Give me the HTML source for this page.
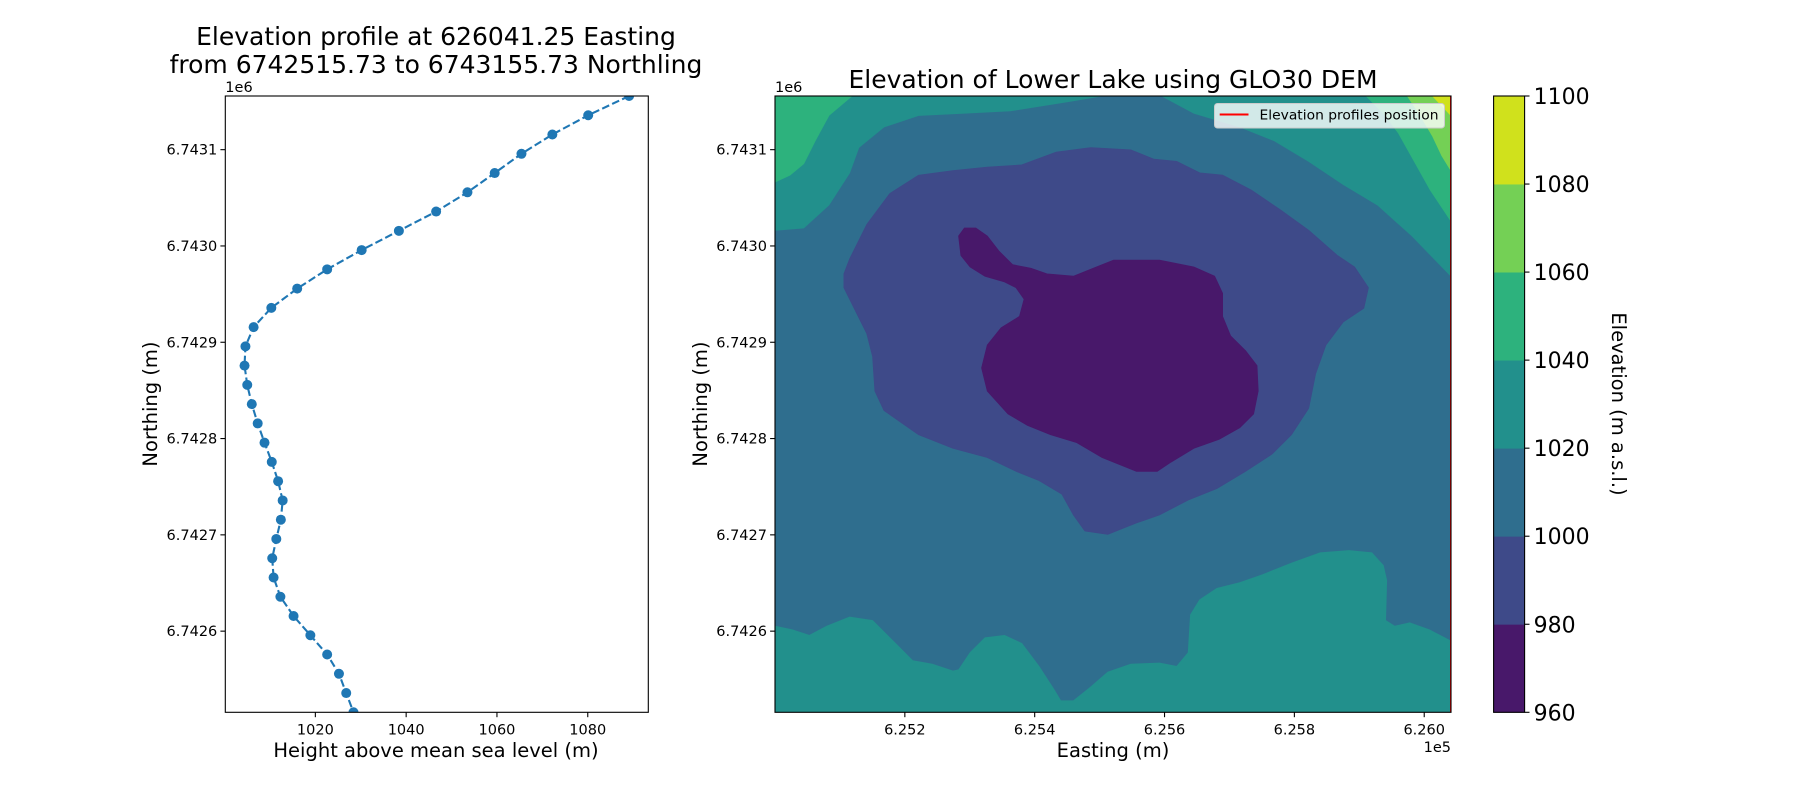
<!DOCTYPE html>
<html><head><meta charset="utf-8">
<style>
html,body{margin:0;padding:0;background:#fff;}
svg{display:block;font-family:"DejaVu Sans","Liberation Sans",sans-serif;}
</style></head>
<body>
<svg id="fig" width="1800" height="800" viewBox="0 0 1800 800" xmlns="http://www.w3.org/2000/svg">
<rect x="0" y="0" width="1800" height="800" fill="#fff"/>
<g id="left"></g>
<g id="right"></g>
<g id="cbar"></g>
</svg>
<script>
// ---------- Profile chart data ----------
const northingStart = 6743155.73;
const northingStep = -20;
const profileHeights = [1089.1,1080.1,1072.2,1065.4,1059.5,1053.5,1046.6,1038.4,1030.2,1022.6,1016.0,1010.3,1006.4,1004.6,1004.4,1005.0,1006.0,1007.3,1008.8,1010.4,1011.8,1012.8,1012.4,1011.4,1010.5,1010.8,1012.3,1015.2,1018.9,1022.6,1025.2,1026.8,1028.4];
const profileXTicks = [1020,1040,1060,1080];
const northingTicks = [6742600,6742700,6742800,6742900,6743000,6743100];
const northingTickLabels = ["6.7426","6.7427","6.7428","6.7429","6.7430","6.7431"];
// ---------- Map data ----------
const eastingTicks = [625200,625400,625600,625800,626000];
const eastingTickLabels = ["6.252","6.254","6.256","6.258","6.260"];
const profileEasting = 626041.25;
const levels = [960,980,1000,1020,1040,1060,1080,1100];
const levelColors = ["#48186a","#3e4a89","#2f6e8e","#22908c","#2db27d","#74d055","#d0e11c"];
// contour outlines (trace units, converted to easting/northing below)
const contourBands = [
 {level:2, trace:[[675,83],[1264,83],[1264,620],[675,620]]},
 {level:3, trace:[[675,83],[960,83],[930,88],[880,96],[840,98],[800,100],[770,110],[748,128],[740,150],[722,178],[700,198],[675,200]]},
 {level:3, trace:[[1012,83],[1040,98],[1080,110],[1110,122],[1140,140],[1170,160],[1200,178],[1230,205],[1264,240],[1264,83]]},
 {level:3, trace:[[675,545],[690,548],[705,553],[720,545],[740,537],[760,540],[780,560],[795,575],[812,578],[830,584],[835,583],[845,568],[858,555],[875,553],[890,560],[905,580],[918,600],[924,610],[935,610],[950,598],[965,585],[985,578],[1010,577],[1025,580],[1035,568],[1037,535],[1045,522],[1060,512],[1080,507],[1100,500],[1125,490],[1150,481],[1175,479],[1195,481],[1205,492],[1208,505],[1207,540],[1215,545],[1228,542],[1245,548],[1264,558],[1264,620],[675,620]]},
 {level:4, trace:[[675,83],[742,83],[722,100],[710,122],[700,142],[688,152],[675,158]]},
 {level:4, trace:[[1190,83],[1205,98],[1218,115],[1232,140],[1246,165],[1264,192],[1264,83]]},
 {level:5, trace:[[1226,83],[1236,98],[1248,118],[1256,135],[1264,148],[1264,83]]},
 {level:6, trace:[[1248,83],[1264,83],[1264,100]]},
 {level:1, trace:[[735,238],[740,225],[755,195],[775,168],[800,152],[830,148],[860,145],[890,143],[920,132],[950,128],[985,130],[1005,138],[1025,140],[1045,150],[1065,152],[1090,165],[1115,182],[1140,200],[1165,222],[1180,232],[1192,250],[1188,268],[1170,280],[1155,300],[1146,325],[1140,355],[1125,378],[1108,395],[1085,410],[1060,425],[1035,435],[1010,448],[990,455],[965,465],[945,462],[935,448],[925,430],[905,418],[885,410],[860,398],[830,390],[800,378],[770,357],[762,340],[760,310],[755,290],[745,270],[735,250]]},
 {level:0, trace:[[835,205],[840,198],[850,198],[860,205],[870,218],[882,230],[898,233],[912,238],[935,240],[955,232],[970,226],[990,226],[1010,226],[1040,232],[1058,240],[1065,255],[1065,275],[1072,292],[1085,305],[1095,318],[1096,340],[1092,360],[1080,372],[1062,382],[1040,390],[1020,402],[1008,410],[990,410],[960,398],[938,385],[915,378],[895,370],[878,360],[860,340],[855,320],[860,300],[872,285],[888,275],[892,260],[885,250],[875,245],[858,240],[845,232],[837,222]]}
];

const NS="http://www.w3.org/2000/svg";
function mk(parent,tag,attrs,text){const e=document.createElementNS(NS,tag);for(const k in attrs)e.setAttribute(k,attrs[k]);if(text!==undefined)e.textContent=text;parent.appendChild(e);return e;}

const TICK=14.5, LAB=19.5, TITLE=25;
const L={x0:225.3,x1:648.3,y0:96,y1:712.3};
const R={x0:775,x1:1451,y0:96,y1:712.3};
const C={x0:1493.6,x1:1524.6,y0:96,y1:712.3};
const hMin=Math.min(...profileHeights),hMax=Math.max(...profileHeights),hPad=(hMax-hMin)*0.05;
const xDomL=[hMin-hPad,hMax+hPad];
const nMin=northingStart+northingStep*(profileHeights.length-1),nMax=northingStart;
const eMin=625000,eMax=profileEasting;
const sxL=v=>L.x0+(v-xDomL[0])/(xDomL[1]-xDomL[0])*(L.x1-L.x0);
const syL=v=>L.y1-(v-nMin)/(nMax-nMin)*(L.y1-L.y0);
const sxR=v=>R.x0+(v-eMin)/(eMax-eMin)*(R.x1-R.x0);
const syR=v=>R.y1-(v-nMin)/(nMax-nMin)*(R.y1-R.y0);
const sC=v=>C.y1-(v-levels[0])/(levels[levels.length-1]-levels[0])*(C.y1-C.y0);
const traceE=x=>eMin+(x-675)/589*(eMax-eMin);
const traceN=y=>nMin+(620-y)/537*(nMax-nMin);

// ---------- Left chart ----------
const lg=document.getElementById('left');
let e;
e=mk(lg,'text',{x:436,y:45,'font-size':TITLE,'text-anchor':'middle'},'Elevation profile at 626041.25 Easting');


e=mk(lg,'text',{x:436,y:73,'font-size':TITLE,'text-anchor':'middle'},'from 6742515.73 to 6743155.73 Northling');


const pts=profileHeights.map((h,i)=>[sxL(h),syL(northingStart+northingStep*i)]);
const clipL=mk(lg,'clipPath',{id:'clipL'});mk(clipL,'rect',{x:L.x0,y:L.y0,width:L.x1-L.x0,height:L.y1-L.y0});
const pg=mk(lg,'g',{'clip-path':'url(#clipL)'});
e=mk(pg,'polyline',{points:pts.map(p=>p.join(',')).join(' '),fill:'none',stroke:'#1f77b4','stroke-width':2.1,'stroke-dasharray':'7.7,3.3'});


pts.forEach((p,i)=>{const c=mk(pg,'circle',{cx:p[0],cy:p[1],r:5,fill:'#1f77b4'});

});
e=mk(lg,'rect',{x:L.x0,y:L.y0,width:L.x1-L.x0,height:L.y1-L.y0,fill:'none',stroke:'#000','stroke-width':1.1});


profileXTicks.forEach(t=>{const x=sxL(t);mk(lg,'line',{x1:x,x2:x,y1:L.y1,y2:L.y1+4.9,stroke:'#000','stroke-width':1.1});
const tx=mk(lg,'text',{x:x,y:L.y1+22,'font-size':TICK,'text-anchor':'middle'},String(t));

});
northingTicks.forEach((t,i)=>{const y=syL(t);mk(lg,'line',{x1:L.x0-4.9,x2:L.x0,y1:y,y2:y,stroke:'#000','stroke-width':1.1});
const tx=mk(lg,'text',{x:L.x0-8,y:y+5,'font-size':TICK,'text-anchor':'end'},northingTickLabels[i]);

});
e=mk(lg,'text',{x:L.x0,y:92,'font-size':TICK},'1e6');


e=mk(lg,'text',{x:436,y:757,'font-size':LAB,'text-anchor':'middle'},'Height above mean sea level (m)');


e=mk(lg,'text',{x:157,y:404,'font-size':LAB,'text-anchor':'middle',transform:'rotate(-90 157 404)'},'Northing (m)');



// ---------- Right map ----------
const rg=document.getElementById('right');
e=mk(rg,'text',{x:1113,y:88,'font-size':TITLE,'text-anchor':'middle'},'Elevation of Lower Lake using GLO30 DEM');


const clipR=mk(rg,'clipPath',{id:'clipR'});mk(clipR,'rect',{x:R.x0,y:R.y0,width:R.x1-R.x0,height:R.y1-R.y0});
const cg=mk(rg,'g',{'clip-path':'url(#clipR)'});
contourBands.forEach(b=>{const d=b.trace.map(p=>sxR(traceE(p[0])).toFixed(1)+','+syR(traceN(p[1])).toFixed(1)).join(' ');
const pl=mk(cg,'polygon',{points:d,fill:levelColors[b.level],stroke:levelColors[b.level],'stroke-width':0.8});

});
e=mk(cg,'line',{x1:sxR(profileEasting),x2:sxR(profileEasting),y1:R.y0,y2:R.y1,stroke:'#ff0000','stroke-width':2});


e=mk(rg,'rect',{x:R.x0,y:R.y0,width:R.x1-R.x0,height:R.y1-R.y0,fill:'none',stroke:'#000','stroke-width':1.1});


eastingTicks.forEach((t,i)=>{const x=sxR(t);mk(rg,'line',{x1:x,x2:x,y1:R.y1,y2:R.y1+4.9,stroke:'#000','stroke-width':1.1});
const tx=mk(rg,'text',{x:x,y:R.y1+22,'font-size':TICK,'text-anchor':'middle'},eastingTickLabels[i]);

});
northingTicks.forEach((t,i)=>{const y=syR(t);mk(rg,'line',{x1:R.x0-4.9,x2:R.x0,y1:y,y2:y,stroke:'#000','stroke-width':1.1});
const tx=mk(rg,'text',{x:R.x0-8,y:y+5,'font-size':TICK,'text-anchor':'end'},northingTickLabels[i]);

});
e=mk(rg,'text',{x:R.x0,y:92,'font-size':TICK},'1e6');


e=mk(rg,'text',{x:R.x1,y:752,'font-size':TICK,'text-anchor':'end'},'1e5');


e=mk(rg,'text',{x:1113,y:757,'font-size':LAB,'text-anchor':'middle'},'Easting (m)');


e=mk(rg,'text',{x:707,y:404,'font-size':LAB,'text-anchor':'middle',transform:'rotate(-90 707 404)'},'Northing (m)');


const leg=mk(rg,'g',{});


mk(leg,'rect',{x:1214.5,y:103.5,width:230,height:24.5,rx:3,fill:'#fff','fill-opacity':0.8,stroke:'#cccccc','stroke-width':1});
mk(leg,'line',{x1:1219.7,x2:1248.5,y1:114.5,y2:114.5,stroke:'#ff0000','stroke-width':2});
e=mk(leg,'text',{x:1259.5,y:119.5,'font-size':13.3,textLength:179,lengthAdjust:'spacingAndGlyphs'},'Elevation profiles position');



// ---------- Colorbar ----------
const cb=document.getElementById('cbar');
for(let i=0;i<levels.length-1;i++){const y1=sC(levels[i+1]),y2=sC(levels[i]);
const r=mk(cb,'rect',{x:C.x0,y:y1,width:C.x1-C.x0,height:y2-y1+0.4,fill:levelColors[i]});

}
mk(cb,'rect',{x:C.x0,y:C.y0,width:C.x1-C.x0,height:C.y1-C.y0,fill:'none',stroke:'#000','stroke-width':1.1});
levels.forEach(t=>{const y=sC(t);mk(cb,'line',{x1:C.x1,x2:C.x1+4.9,y1:y,y2:y,stroke:'#000','stroke-width':1.1});
const tx=mk(cb,'text',{x:C.x1+9,y:y+8,'font-size':22},String(t));

});
e=mk(cb,'text',{x:1612,y:404,'font-size':LAB,'text-anchor':'middle',transform:'rotate(90 1612 404)'},'Elevation (m a.s.l.)');


</script>
</body></html>
